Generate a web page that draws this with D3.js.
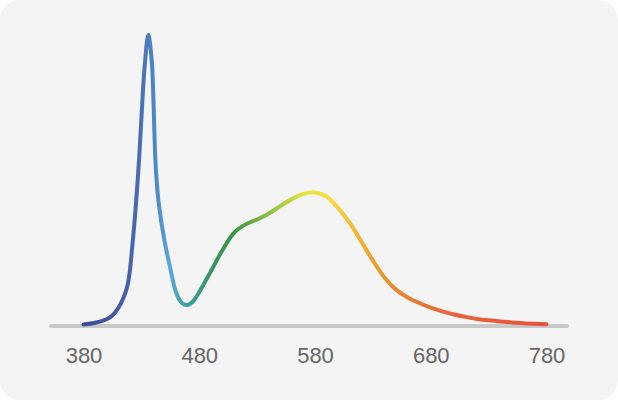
<!DOCTYPE html>
<html>
<head>
<meta charset="utf-8">
<script src="https://cdn.jsdelivr.net/npm/d3@7"></script>
<style>
  html, body { margin: 0; padding: 0; background: #ffffff; }
  svg { display: block; }
</style>
</head>
<body>
<svg id="chart" width="618" height="400"></svg>
<script>
// Wavelengths (nm) and relative spectral power
const wavelengths = [380, 390, 400, 405, 410, 415, 418, 420, 422, 425, 428, 430, 433, 436, 439, 440, 441, 442, 443, 445, 450, 455, 460, 465, 470, 475, 480, 490, 500, 510, 520, 530, 540, 550, 560, 570, 580, 590, 600, 610, 620, 630, 640, 650, 660, 670, 680, 690, 700, 710, 720, 730, 740, 750, 760, 770, 780];
const power = [0.002, 0.008, 0.020, 0.033, 0.058, 0.098, 0.136, 0.185, 0.265, 0.400, 0.570, 0.710, 0.900, 1.000, 0.910, 0.830, 0.700, 0.580, 0.510, 0.420, 0.290, 0.195, 0.112, 0.076, 0.069, 0.083, 0.114, 0.185, 0.258, 0.318, 0.347, 0.364, 0.384, 0.410, 0.434, 0.452, 0.457, 0.443, 0.403, 0.352, 0.288, 0.222, 0.164, 0.122, 0.095, 0.076, 0.060, 0.047, 0.036, 0.028, 0.021, 0.016, 0.012, 0.009, 0.006, 0.004, 0.0025];
const tickValues = [380, 480, 580, 680, 780];
const gradientWavelengths = [380, 425, 440, 455, 470, 490, 510, 540, 570, 590, 620, 650, 700, 780];
const gradientColors = ["#3e4896", "#4a66b0", "#4b84c4", "#58a7d8", "#3a9fa0", "#3a9466", "#3a9640", "#8cc040", "#e2e23e", "#f8de40", "#f0b030", "#e8862f", "#e8623a", "#e8523c"];

const svg = d3.select("#chart");
const W = 618, H = 400;

svg.append("rect")
  .attr("x", 0).attr("y", 0)
  .attr("width", W).attr("height", H)
  .attr("rx", 20).attr("ry", 20)
  .attr("fill", "#f4f4f4");

const x = d3.scaleLinear().domain([380, 780]).range([83.5, 546.5]);
const y = d3.scaleLinear().domain([0, 1]).range([325, 35]);

// gradient
const defs = svg.append("defs");
const grad = defs.append("linearGradient")
  .attr("id", "spec")
  .attr("gradientUnits", "userSpaceOnUse")
  .attr("x1", x(380)).attr("x2", x(780))
  .attr("y1", 0).attr("y2", 0);
grad.selectAll("stop")
  .data(gradientWavelengths)
  .join("stop")
  .attr("offset", d => (d - 380) / 400)
  .attr("stop-color", (d, i) => gradientColors[i]);

// axis baseline
svg.append("line")
  .attr("x1", 51).attr("x2", 567)
  .attr("y1", 326).attr("y2", 326)
  .attr("stroke", "#c8c8c8")
  .attr("stroke-width", 4)
  .attr("stroke-linecap", "round");

const axis = svg.append("g")
  .attr("transform", "translate(0,326)")
  .call(d3.axisBottom(x).tickValues(tickValues).tickSize(0).tickPadding(21).tickFormat(d3.format("d")));
axis.select(".domain").remove();
axis.selectAll("text")
  .attr("fill", "#666666")
  .style("font-family", "'Liberation Sans', Arial, Helvetica, sans-serif")
  .style("font-size", "22px");

// spectrum line
const data = wavelengths.map((w, i) => [w, power[i]]);
const line = d3.line()
  .x(d => x(d[0]))
  .y(d => y(d[1]))
  .curve(d3.curveCatmullRom.alpha(0.5));

svg.append("path")
  .datum(data)
  .attr("d", line)
  .attr("fill", "none")
  .attr("stroke", "url(#spec)")
  .attr("stroke-width", 4)
  .attr("stroke-linecap", "round")
  .attr("stroke-linejoin", "round");
</script>
</body>
</html>
